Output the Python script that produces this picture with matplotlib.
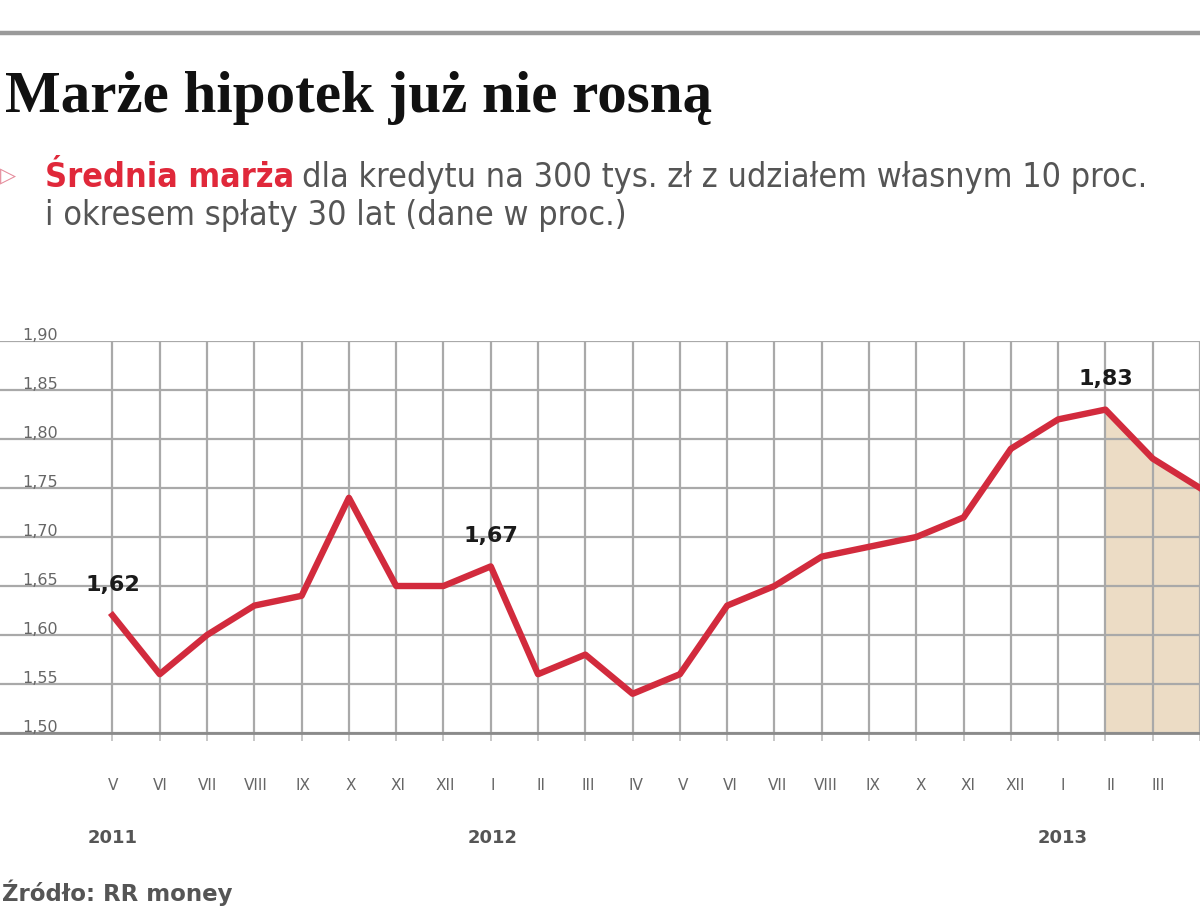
import matplotlib
matplotlib.use("Agg")
import matplotlib.pyplot as plt
import matplotlib.transforms as mtransforms
import numpy as np

# ---- data ----
months = ["V", "VI", "VII", "VIII", "IX", "X", "XI", "XII",
          "I", "II", "III", "IV", "V", "VI", "VII", "VIII", "IX", "X", "XI", "XII",
          "I", "II", "III", "IV"]
margin = [1.62, 1.56, 1.60, 1.63, 1.64, 1.74, 1.65, 1.65,
          1.67, 1.56, 1.58, 1.54, 1.56, 1.63, 1.65, 1.68, 1.69, 1.70, 1.72, 1.79,
          1.82, 1.83, 1.78, 1.75]
years = ["2011", "2012", "2013"]
year_idx = [0, 8, 20]
labeled_idx = [0, 8, 21]
shade_from = 21
yticks = [1.50, 1.55, 1.60, 1.65, 1.70, 1.75, 1.80, 1.85, 1.90]

W, H = 1200, 923
fig = plt.figure(figsize=(W / 100, H / 100), dpi=100)
fig.patch.set_facecolor("white")

def fx(px):
    return px / W

def fy(py):
    return 1 - py / H

# top rule
fig.add_artist(plt.Line2D([0, 1], [fy(33), fy(33)], color="#9a9a9a", lw=3.2))

# axes geometry
y_top, y_bot = 341, 733
ax = fig.add_axes([0, fy(y_bot), 1, (y_bot - y_top) / H])
x0_px, step_px = 113, 47.5
x = np.arange(len(margin))
ax.set_xlim(-x0_px / step_px, (W - x0_px) / step_px)
ax.set_ylim(yticks[0], yticks[-1])

for s in ["top", "right", "left"]:
    ax.spines[s].set_visible(False)
ax.spines["bottom"].set_color("#8a8a8a")
ax.spines["bottom"].set_linewidth(2.0)

ax.set_yticks(yticks)
ax.set_yticklabels([])
ax.tick_params(axis="y", length=0)
ax.set_xticks(x)
ax.set_xticklabels([])
ax.tick_params(axis="x", length=6, width=1.2, color="#bdbdbd")
ax.grid(True, color="#a9a9a9", lw=1.6)
ax.set_axisbelow(True)

# shaded area
xs = x[shade_from:]
ax.fill_between(xs, margin[shade_from:], yticks[0], color="#ecdcc5", lw=0, zorder=0.3)

ax.plot(x, margin, color="#d22b3d", lw=4.6, solid_joinstyle="round", zorder=3)

# data labels
for i in labeled_idx:
    ax.annotate(f"{margin[i]:.2f}".replace(".", ","), (x[i], margin[i]),
                xytext=(0, 15), textcoords="offset points", ha="center", va="bottom",
                fontsize=16, fontweight="bold", color="#1a1a1a", zorder=4)

# y tick labels (inside, on the left)
trans = mtransforms.blended_transform_factory(ax.transAxes, ax.transData)
for v in yticks:
    ax.text(fx(40), v + 0.006, f"{v:.2f}".replace(".", ","), transform=trans,
            ha="center", va="center", fontsize=11.5, color="#666666")

# x month labels and years
for i, m in enumerate(months):
    px = x0_px + i * step_px
    if px > W:
        continue
    fig.text(fx(px), fy(785), m, ha="center", va="center", fontsize=11, color="#666666")
for yl, i in zip(years, year_idx):
    px = x0_px + i * step_px
    fig.text(fx(px), fy(838), yl, ha="center", va="center", fontsize=13,
             fontweight="bold", color="#555555")

# title
fig.text(fx(5), fy(98), "Marże hipotek już nie rosną", ha="left", va="center",
         fontsize=42.5, fontweight="bold", family="Liberation Serif", color="#111111")

# subtitle
fig.text(fx(0), fy(176), "▷", ha="left", va="center", fontsize=15, color="#e58a9a")
t1 = fig.text(fx(45), fy(178), "Średnia marża", ha="left", va="center",
              fontsize=24.5, fontweight="bold", color="#e0283a", fontstretch="condensed")
fig.canvas.draw()
bb = t1.get_window_extent(fig.canvas.get_renderer())
fig.text(bb.x1 / W + fx(8), fy(178),
         "dla kredytu na 300 tys. zł z udziałem własnym 10 proc.",
         ha="left", va="center", fontsize=24.5, color="#555555", fontstretch="condensed")
fig.text(fx(45), fy(216), "i okresem spłaty 30 lat (dane w proc.)",
         ha="left", va="center", fontsize=24.5, color="#555555", fontstretch="condensed")

# source
fig.text(fx(2), fy(893), "Źródło: RR money", ha="left", va="center",
         fontsize=16.5, fontweight="bold", color="#555555")

fig.savefig("out.png", dpi=100, facecolor="white")
